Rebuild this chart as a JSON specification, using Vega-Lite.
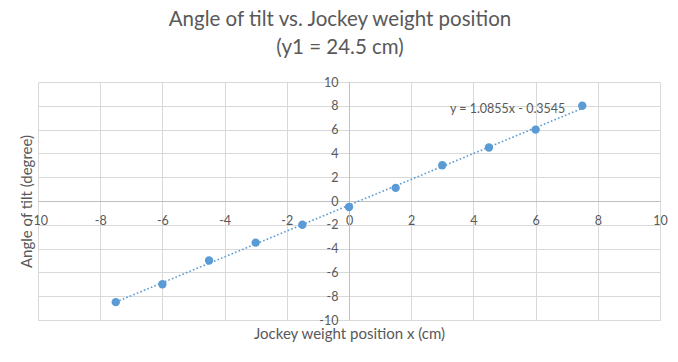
{
  "$schema": "https://vega.github.io/schema/vega-lite/v6.json",
  "autosize": {"type": "none"},
  "padding": {"left": 38, "top": 82, "right": 18, "bottom": 42},
  "width": 622,
  "height": 238,
  "background": "white",
  "config": {
    "font": "Lato",
    "view": {"stroke": null}
  },
  "title": {
    "text": ["Angle of tilt vs. Jockey weight position", "(y1 = 24.5 cm)"],
    "fontSize": 20.5,
    "fontWeight": "normal",
    "color": "#595959",
    "font": "Lato",
    "lineHeight": 28,
    "anchor": "middle",
    "dx": -9,
    "offset": 18
  },
  "datasets": {
    "points": [
      {"x": -7.5, "y": -8.5},
      {"x": -6, "y": -7},
      {"x": -4.5, "y": -5},
      {"x": -3, "y": -3.5},
      {"x": -1.5, "y": -2},
      {"x": 0, "y": -0.5},
      {"x": 1.5, "y": 1.1},
      {"x": 3, "y": 3},
      {"x": 4.5, "y": 4.5},
      {"x": 6, "y": 6},
      {"x": 7.5, "y": 8}
    ],
    "label": [
      {"x": 5.1, "y": 7.4, "text": "y = 1.0855x - 0.3545"}
    ]
  },
  "layer": [
    {
      "data": {"name": "points"},
      "transform": [
        {"regression": "y", "on": "x", "method": "linear", "extent": [-7.5, 7.5]}
      ],
      "mark": {"type": "line", "color": "#5b9bd5", "strokeWidth": 1.6, "strokeDash": [1.6, 2.2]},
      "encoding": {
        "x": {
          "field": "x", "type": "quantitative",
          "scale": {"domain": [-10, 10], "nice": false, "zero": false},
          "axis": {
            "values": [-10, -8, -6, -4, -2, 0, 2, 4, 6, 8, 10],
            "tickCount": 11,
            "labelExpr": "'' + datum.value",
            "orient": "bottom",
            "offset": -119,
            "title": "Jockey weight position x (cm)",
            "titleFont": "Lato",
            "titleFontSize": 15,
            "titleFontWeight": "normal",
            "titleColor": "#595959",
            "titleY": 137,
            "titleBaseline": "alphabetic",
            "labelFont": "Lato",
            "labelFontSize": 12.5,
            "labelColor": "#595959",
            "labelPadding": 13,
            "labelFlush": false,
            "labelOverlap": false,
            "ticks": false,
            "domainColor": "#bfbfbf",
            "gridColor": "#d9d9d9",
            "gridOpacity": 1
          }
        },
        "y": {
          "field": "y", "type": "quantitative",
          "scale": {"domain": [-10, 10], "nice": false, "zero": false},
          "axis": {
            "values": [-10, -8, -6, -4, -2, 0, 2, 4, 6, 8, 10],
            "tickCount": 11,
            "labelExpr": "'' + datum.value",
            "orient": "left",
            "offset": -311,
            "title": "Angle of tilt (degree)",
            "titleFont": "Lato",
            "titleFontSize": 15,
            "titleFontWeight": "normal",
            "titleColor": "#595959",
            "titleX": -323,
            "titleY": 119,
            "titleAngle": -90,
            "titleAlign": "center",
            "titleBaseline": "middle",
            "labelFont": "Lato",
            "labelFontSize": 12.5,
            "labelColor": "#595959",
            "labelPadding": 11,
            "labelFlush": false,
            "labelOverlap": false,
            "ticks": false,
            "domainColor": "#bfbfbf",
            "gridColor": "#d9d9d9",
            "gridOpacity": 1
          }
        }
      }
    },
    {
      "data": {"name": "points"},
      "mark": {"type": "point", "filled": true, "opacity": 1, "color": "#5b9bd5", "size": 70},
      "encoding": {
        "x": {"field": "x", "type": "quantitative"},
        "y": {"field": "y", "type": "quantitative"}
      }
    },
    {
      "data": {"name": "label"},
      "mark": {"type": "text", "font": "Lato", "fontSize": 12.5, "color": "#595959", "align": "center", "baseline": "alphabetic"},
      "encoding": {
        "x": {"field": "x", "type": "quantitative"},
        "y": {"field": "y", "type": "quantitative"},
        "text": {"field": "text"}
      }
    }
  ]
}
